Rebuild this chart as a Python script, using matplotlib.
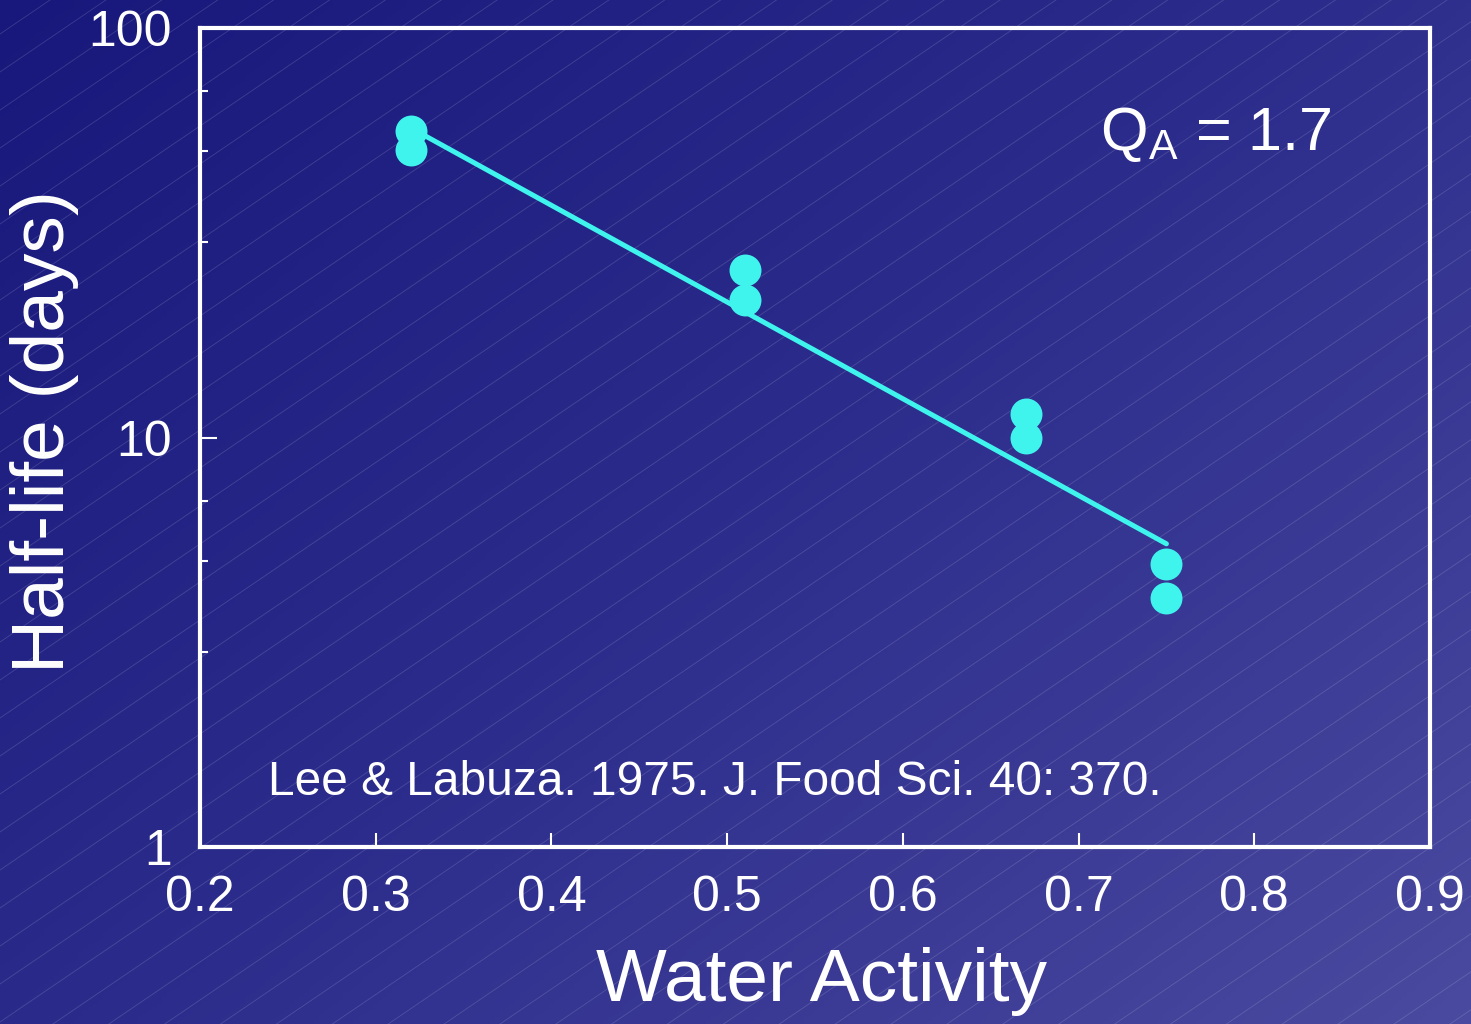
import numpy as np
import matplotlib.pyplot as plt
from matplotlib.colors import LinearSegmentedColormap
from matplotlib.ticker import FixedLocator, NullFormatter

plt.rcParams['font.family'] = ['Liberation Sans', 'DejaVu Sans']
plt.rcParams['mathtext.fontset'] = 'custom'
plt.rcParams['mathtext.rm'] = 'Liberation Sans'

# data
water_activity = [0.32, 0.32, 0.51, 0.51, 0.67, 0.67, 0.75, 0.75]
half_life = [56, 50.5, 25.6, 21.7, 11.4, 10.0, 4.9, 4.05]
fit_x = [0.32, 0.75]
fit_y = [57, 5.5]
x_ticks = [0.2, 0.3, 0.4, 0.5, 0.6, 0.7, 0.8, 0.9]
x_ticklabels = ['0.2', '0.3', '0.4', '0.5', '0.6', '0.7', '0.8', '0.9']
y_ticks = [1, 10, 100]
y_ticklabels = ['1', '10', '100']
y_minor = [3, 5, 7, 30, 50, 70]

fig = plt.figure(figsize=(14.71, 10.24), dpi=100)

# background: diagonal gradient plus faint hatch lines
bg = fig.add_axes([0, 0, 1, 1])
bg.set_axis_off()
cmap = LinearSegmentedColormap.from_list('bg', ['#18187c', '#2c2c8c', '#4a4aa0'])
gx, gy = np.meshgrid(np.linspace(0, 1, 300), np.linspace(0, 1, 300))
grad = 0.55 * gx + 0.45 * gy
bg.imshow(grad, cmap=cmap, extent=[0, 1471, 1024, 0], aspect='auto')
xx = np.array([0, 1471])
for c in np.arange(-1100, 1100, 38):
    bg.plot(xx, 1024 - (c + 0.68 * xx), color='white', lw=0.6, alpha=0.15)
bg.set_xlim(0, 1471)
bg.set_ylim(1024, 0)

ax = fig.add_axes([200 / 1471, 1 - 847 / 1024, 1230 / 1471, 819 / 1024])
ax.patch.set_alpha(0)
ax.set_yscale('log')
ax.set_xlim(0.2, 0.9)
ax.set_ylim(1, 100)

ax.plot(fit_x, fit_y, color='#40f4ee', lw=3.6, solid_capstyle='round', zorder=2)
ax.plot(water_activity, half_life, 'o', color='#40f4ee', ms=23, mec='none', zorder=3)

for s in ax.spines.values():
    s.set_color('white')
    s.set_linewidth(3)

ax.set_xticks(x_ticks)
ax.set_xticklabels(x_ticklabels)
ax.set_yticks(y_ticks)
ax.set_yticklabels(y_ticklabels)
ax.yaxis.set_minor_locator(FixedLocator(y_minor))
ax.yaxis.set_minor_formatter(NullFormatter())
ax.xaxis.set_minor_locator(FixedLocator([]))
ax.tick_params(axis='x', direction='in', length=10, width=1.5, color='white',
               labelcolor='white', labelsize=36, pad=20)
ax.tick_params(axis='y', which='major', direction='in', length=12, width=1.5,
               color='white', labelcolor='white', labelsize=36, pad=20)
ax.tick_params(axis='y', which='minor', direction='in', length=6, width=1.5,
               color='white')

ax.set_xlabel('Water Activity', color='white', fontsize=54)
ax.xaxis.set_label_coords(0.505, -0.122)
ax.set_ylabel('Half-life (days)', color='white', fontsize=54)
ax.yaxis.set_label_coords(-0.098, 0.507)

ax.text(0.732, 0.851, r'Q$_\mathrm{A}$ = 1.7', transform=ax.transAxes,
        color='white', fontsize=44)
ax.text(0.055, 0.063, 'Lee & Labuza. 1975. J. Food Sci. 40: 370.',
        transform=ax.transAxes, color='white', fontsize=34.5)

fig.savefig('out.png', dpi=100)
